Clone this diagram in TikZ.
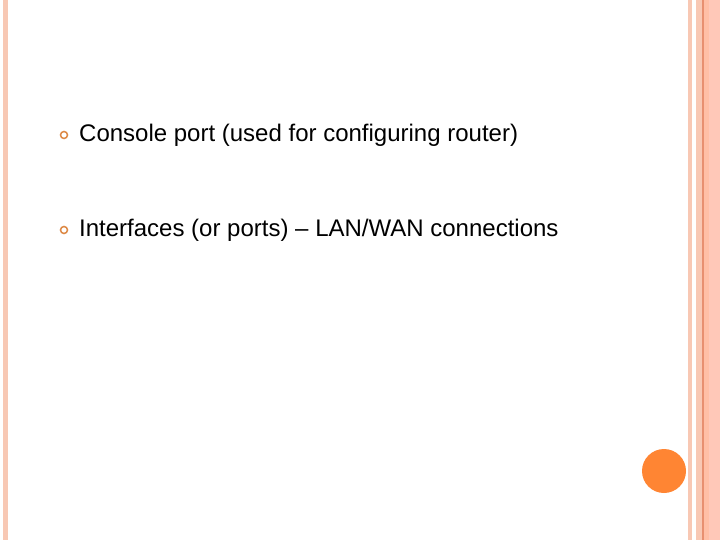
\documentclass[tikz,border=0pt]{standalone}
\usepackage{fontspec}
\setmainfont{Liberation Sans}
\definecolor{barA}{HTML}{F8C8B4}
\definecolor{barB}{HTML}{FFBFA6}
\definecolor{barC}{HTML}{FFC8B8}
\definecolor{barD}{HTML}{E89070}
\definecolor{dot}{HTML}{FF8533}
\definecolor{bulc}{HTML}{DD8844}
\begin{document}
\begin{tikzpicture}[x=1pt,y=-1pt,
  bul/.style={circle,draw=bulc,line width=1.5pt,minimum size=7pt,inner sep=0pt},
  txt/.style={anchor=west,font=\fontsize{24}{28}\selectfont,inner sep=0pt}]
\useasboundingbox (0,0) rectangle (720,540);
\fill[white] (0,0) rectangle (720,540);
\fill[barA] (3,0) rectangle (8,540);
\fill[barA] (688,0) rectangle (692,540);
\fill[barA] (696,0) rectangle (702,540);
\fill[barD] (702,0) rectangle (703.5,540);
\fill[barB] (703.5,0) rectangle (709,540);
\fill[barC] (709,0) rectangle (720,540);
\fill[dot] (664,471) circle (22);
\node[bul] (b1) at (64,135) {};
\node[txt] (t1) at (79,135) {Console port (used for configuring router)};
\node[bul] (b2) at (64,230) {};
\node[txt] (t2) at (79,230) {Interfaces (or ports) – LAN/WAN connections};
\end{tikzpicture}
\end{document}
